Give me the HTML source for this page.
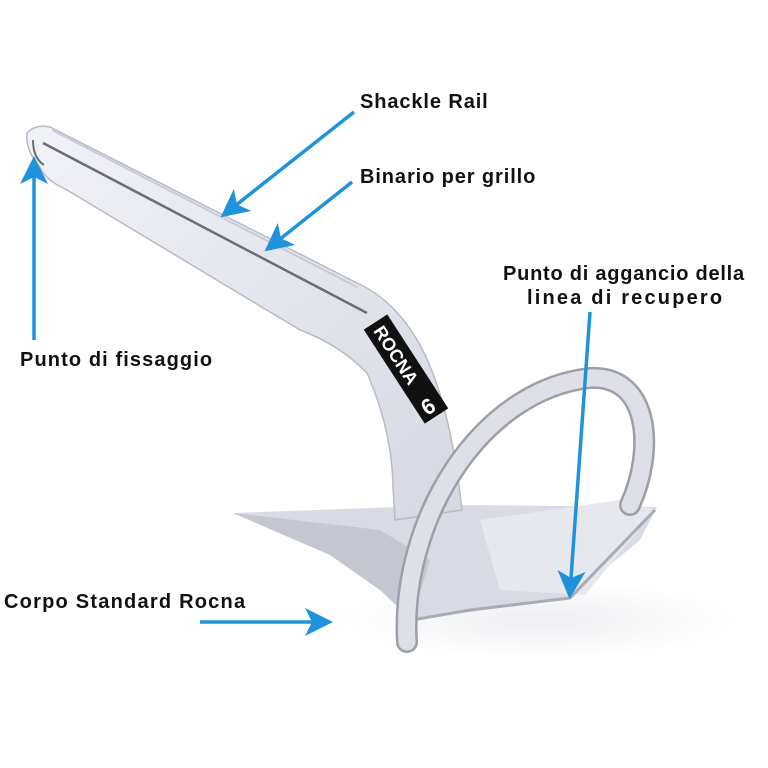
<!DOCTYPE html>
<html><head><style>
html,body{margin:0;padding:0;background:#fff}
svg{display:block}
text{font-family:"Liberation Sans",sans-serif;font-weight:bold;font-size:20px;letter-spacing:0.9px;fill:#111}
</style></head><body>
<svg width="768" height="768" viewBox="0 0 768 768">
<defs>
<marker id="ah" markerWidth="8" markerHeight="8" refX="6" refY="4" orient="auto" markerUnits="strokeWidth">
<path d="M0,0 L8,4 L0,8 L2,4 Z" fill="#1e93dc"/>
</marker>
<linearGradient id="sh" x1="0" y1="0" x2="1" y2="1">
<stop offset="0" stop-color="#f1f2f7"/><stop offset="1" stop-color="#d6d8e2"/>
</linearGradient>
<radialGradient id="shadow" cx="0.5" cy="0.5" r="0.5">
<stop offset="0" stop-color="#eeeff2"/><stop offset="1" stop-color="#ffffff"/>
</radialGradient>
</defs>
<ellipse cx="540" cy="620" rx="200" ry="40" fill="url(#shadow)"/>
<polygon points="233,513 455,505 657,507 640,540 570,598 470,612 412,620 380,590 330,555" fill="#d9dbe4"/>
<polygon points="233,513 380,530 430,560 412,620 380,590 330,555" fill="#c4c6d0"/>
<polygon points="480,520 620,500 655,510 585,595 500,590" fill="#e7e8ee"/>
<path d="M412,620 L470,610 L570,598 L655,510" fill="none" stroke="#a9abb6" stroke-width="3"/>
<path d="M27,133 Q35,124 50,127 L357,283 Q395,300 420,345 Q450,400 462,510 L395,520 L393,487 Q392,430 367,373 Q340,345 300,330 L67,190 Q45,180 40,167 Q25,150 27,133 Z" fill="url(#sh)" stroke="#b8bac4" stroke-width="1.5"/>
<path d="M43,143 L367,313" stroke="#6b6d78" stroke-width="2.5"/>
<path d="M33,140 Q33,158 44,165" fill="none" stroke="#6b6d78" stroke-width="2"/>
<path d="M52,130 L357,287" stroke="#c9cbd4" stroke-width="2"/>
<g transform="translate(406,369) rotate(57)">
<rect x="-56" y="-14" width="112" height="28" fill="#111"/>
<text x="-50" y="7" style="font-size:18px;fill:#fff;letter-spacing:0">ROCNA</text>
<text x="34" y="9" style="font-size:22px;fill:#fff" transform="rotate(-90 42 0)">6</text>
</g>
<path d="M407,642 C400,520 480,390 590,378 C650,375 655,450 630,505" fill="none" stroke="#9c9ea9" stroke-width="22" stroke-linecap="round"/>
<path d="M407,642 C400,520 480,390 590,378 C650,375 655,450 630,505" fill="none" stroke="#dfe0e7" stroke-width="17" stroke-linecap="round"/>
<g stroke="#1e93dc" stroke-width="3.5" fill="none">
<line x1="354" y1="112" x2="226" y2="213" marker-end="url(#ah)"/>
<line x1="352" y1="182" x2="270" y2="247" marker-end="url(#ah)"/>
<line x1="34" y1="340" x2="34" y2="163" marker-end="url(#ah)"/>
<line x1="590" y1="312" x2="570" y2="592" marker-end="url(#ah)"/>
<line x1="200" y1="622" x2="326" y2="622" marker-end="url(#ah)"/>
</g>
<text x="360" y="108">Shackle Rail</text>
<text x="360" y="183">Binario per grillo</text>
<text x="503" y="280" textLength="242">Punto di aggancio della</text>
<text x="527" y="304" textLength="196">linea di recupero</text>
<text x="20" y="366" textLength="193">Punto di fissaggio</text>
<text x="4" y="608" textLength="242">Corpo Standard Rocna</text>
</svg>
</body></html>
